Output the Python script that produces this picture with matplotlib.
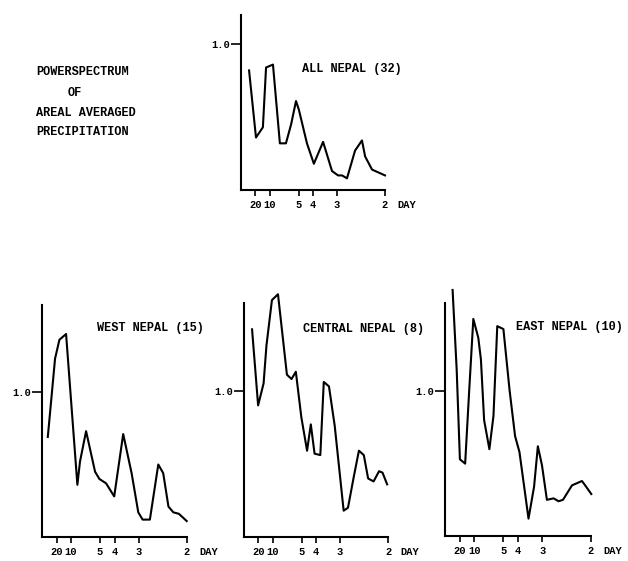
import numpy as np
from matplotlib import pyplot as plt

# frequency (cycles/day) and relative power
all_f = [0.028, 0.052, 0.076, 0.087, 0.111, 0.135, 0.156, 0.174, 0.191, 0.201, 0.229,
         0.253, 0.285, 0.316, 0.337, 0.351, 0.368, 0.396, 0.420, 0.431, 0.455, 0.500]
all_p = [0.82, 0.36, 0.43, 0.84, 0.86, 0.32, 0.32, 0.45, 0.61, 0.55, 0.32,
         0.18, 0.33, 0.13, 0.10, 0.10, 0.08, 0.27, 0.34, 0.23, 0.14, 0.10]

west_f = [0.020, 0.045, 0.060, 0.083, 0.122, 0.131, 0.152, 0.183, 0.198, 0.221, 0.249,
          0.280, 0.309, 0.332, 0.347, 0.372, 0.401, 0.418, 0.436, 0.453, 0.472, 0.499]
west_p = [0.69, 1.23, 1.36, 1.40, 0.36, 0.52, 0.73, 0.45, 0.40, 0.37, 0.28,
          0.71, 0.44, 0.17, 0.12, 0.12, 0.50, 0.44, 0.21, 0.17, 0.16, 0.11]

central_f = [0.028, 0.049, 0.068, 0.078, 0.097, 0.118, 0.149, 0.165, 0.180, 0.199,
             0.219, 0.232, 0.245, 0.265, 0.277, 0.295, 0.315, 0.346, 0.361, 0.381,
             0.399, 0.416, 0.431, 0.450, 0.469, 0.481, 0.497]
central_p = [1.42, 0.90, 1.05, 1.31, 1.62, 1.66, 1.11, 1.08, 1.13, 0.82,
             0.59, 0.77, 0.57, 0.56, 1.06, 1.03, 0.76, 0.18, 0.20, 0.41,
             0.59, 0.56, 0.40, 0.38, 0.45, 0.44, 0.36]

east_f = [0.026, 0.040, 0.051, 0.069, 0.083, 0.097, 0.114, 0.123, 0.134, 0.152,
          0.166, 0.179, 0.200, 0.221, 0.240, 0.255, 0.286, 0.305, 0.318, 0.332,
          0.349, 0.372, 0.389, 0.404, 0.435, 0.469, 0.480, 0.501]
east_p = [1.70, 1.15, 0.53, 0.50, 1.01, 1.50, 1.37, 1.22, 0.80, 0.60,
          0.83, 1.45, 1.43, 1.01, 0.69, 0.58, 0.12, 0.34, 0.62, 0.49,
          0.25, 0.26, 0.24, 0.25, 0.35, 0.38, 0.35, 0.29]

period_days = [20, 10, 5, 4, 3, 2]
period_labels = ["20", "10", "5", "4", "3", "2"]

FONT = "Liberation Mono"
W, H = 628, 561

fig = plt.figure(figsize=(W / 100, H / 100), dpi=100)


def panel(left, top, right, bottom, ytop, f, p, title, tx, ty):
    # positions given in pixels of the original page
    ax = fig.add_axes([left / W, (H - bottom) / H, (right - left) / W, (bottom - top) / H])
    ax.plot(f, p, color="black", linewidth=1.5, clip_on=False)
    ax.set_xlim(0, 0.5)
    ax.set_ylim(0, ytop)
    for s in ["top", "right"]:
        ax.spines[s].set_visible(False)
    for s in ["left", "bottom"]:
        ax.spines[s].set_linewidth(1.5)
    ax.set_xticks([1 / d for d in period_days])
    ax.set_xticklabels(period_labels, family=FONT, fontsize=7.5, fontweight="bold")
    ax.set_yticks([1.0])
    ax.set_yticklabels(["1.0"], family=FONT, fontsize=7.5, fontweight="bold")
    ax.tick_params(axis="x", direction="out", length=4, width=1.2, pad=3)
    ax.tick_params(axis="y", direction="out", length=7, width=1.2, pad=1)
    ax.annotate("DAY", xy=(1, 0), xycoords="axes fraction", xytext=(9, -7),
                textcoords="offset points", ha="left", va="top",
                family=FONT, fontsize=7.5, fontweight="bold")
    fig.text(tx / W, 1 - ty / H, title, ha="left", va="center",
             family=FONT, fontsize=8.6, fontweight="bold")
    return ax


panel(241, 15, 385, 190, 1.2, all_f, all_p, "ALL NEPAL (32)", 302, 69)
panel(42, 305, 187, 537, 1.6, west_f, west_p, "WEST NEPAL (15)", 97, 328)
panel(244, 303, 388, 537, 1.6, central_f, central_p, "CENTRAL NEPAL (8)", 303, 329)
panel(445, 303, 591, 536, 1.61, east_f, east_p, "EAST NEPAL (10)", 516, 327)

for txt, x, y in [("POWERSPECTRUM", 36, 72), ("OF", 68, 93),
                  ("AREAL AVERAGED", 36, 113), ("PRECIPITATION", 36, 132)]:
    fig.text(x / W, 1 - y / H, txt, ha="left", va="center",
             family=FONT, fontsize=8.6, fontweight="bold")

fig.savefig("out.png", dpi=100)
